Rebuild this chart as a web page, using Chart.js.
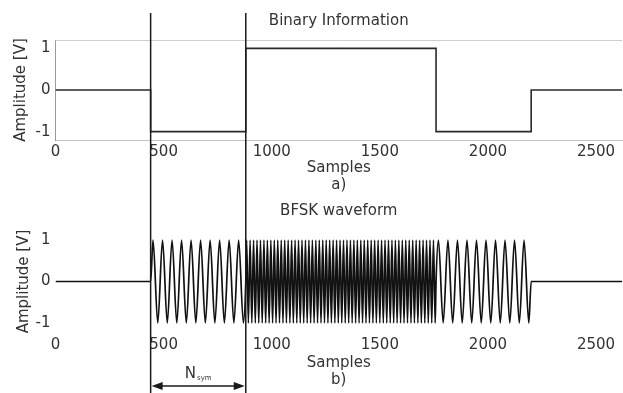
<!DOCTYPE html>
<html><head><meta charset="utf-8">
<script src="https://cdn.jsdelivr.net/npm/chart.js@4/dist/chart.umd.min.js"></script>
<style>
html,body{margin:0;padding:0;background:#fff;overflow:hidden}
#wrap{position:relative;width:623px;height:393px}
canvas{position:absolute;left:0;top:0}
</style></head>
<body><div id="wrap"><canvas id="cTop" width="623" height="393"></canvas><canvas id="cBot" width="623" height="393"></canvas></div>
<script>
// ---- data ----
const binaryStartSamples = [0, 440, 880, 1760, 2200, 2620];
const binaryLevels       = [0, -1, 1, -1, 0, 0];

const bfskSamples = [
  0, 440,
  451,473,495,517,539,561,583,605,627,649,671,693,715,737,759,781,803,825,847,869,
  880,
  884,892,900,908,916,924,932,940,948,956,
  964,972,980,988,996,1004,1012,1020,1028,1036,
  1044,1052,1060,1068,1076,1084,1092,1100,1108,1116,
  1124,1132,1140,1148,1156,1164,1172,1180,1188,1196,
  1204,1212,1220,1228,1236,1244,1252,1260,1268,1276,
  1284,1292,1300,1308,1316,1324,1332,1340,1348,1356,
  1364,1372,1380,1388,1396,1404,1412,1420,1428,1436,
  1444,1452,1460,1468,1476,1484,1492,1500,1508,1516,
  1524,1532,1540,1548,1556,1564,1572,1580,1588,1596,
  1604,1612,1620,1628,1636,1644,1652,1660,1668,1676,
  1684,1692,1700,1708,1716,1724,1732,1740,1748,1756,
  1760,
  1771,1793,1815,1837,1859,1881,1903,1925,1947,1969,1991,2013,2035,2057,2079,2101,2123,2145,2167,2189,
  2200, 2620
];
const bfskValues = [
  0, 0,
  1,-1,1,-1,1,-1,1,-1,1,-1,1,-1,1,-1,1,-1,1,-1,1,-1,
  0,
  1,-1,1,-1,1,-1,1,-1,1,-1,
  1,-1,1,-1,1,-1,1,-1,1,-1,
  1,-1,1,-1,1,-1,1,-1,1,-1,
  1,-1,1,-1,1,-1,1,-1,1,-1,
  1,-1,1,-1,1,-1,1,-1,1,-1,
  1,-1,1,-1,1,-1,1,-1,1,-1,
  1,-1,1,-1,1,-1,1,-1,1,-1,
  1,-1,1,-1,1,-1,1,-1,1,-1,
  1,-1,1,-1,1,-1,1,-1,1,-1,
  1,-1,1,-1,1,-1,1,-1,1,-1,
  1,-1,1,-1,1,-1,1,-1,1,-1,
  0,
  1,-1,1,-1,1,-1,1,-1,1,-1,1,-1,1,-1,1,-1,1,-1,1,-1,
  0, 0
];

const xTickValues = [0, 500, 1000, 1500, 2000, 2500];
const yTickValues = [-1, 0, 1];
const symbolMarkers = [440, 880];

const topTitle = 'Binary Information';
const botTitle = 'BFSK waveform';
const xTitleTop = ['Samples', 'a)'];
const xTitleBot = ['Samples', 'b)'];
const yTitle = 'Amplitude [V]';
const spanLabel = 'N';
const spanLabelSub = 'sym';

// ---- style ----
const FONT = "'DejaVu Sans', sans-serif";
const TXT = '#333';
Chart.defaults.font.family = FONT;
Chart.defaults.font.size = 15;
Chart.defaults.color = TXT;

const f15 = {family: FONT, size: 15, lineHeight: '17px', weight: 'normal'};

function fixedTicks(vals){ return s => { s.ticks = vals.map(v => ({value: v})); }; }

function xScale(titleLines, height, pad, borderShow){
  return {
    type: 'linear', min: 0, max: 2620,
    afterFit: s => { s.height = height; },
    afterBuildTicks: fixedTicks(xTickValues),
    grid: {display: false, drawTicks: false},
    border: {display: borderShow, color: '#c4c4c4', width: 1},
    ticks: {padding: pad, maxRotation: 0, autoSkip: false, font: f15, color: TXT, callback: v => String(v)},
    title: {display: true, text: titleLines, font: f15, color: TXT, padding: {top: 0, bottom: 0}}
  };
}
function yScale(titlePad, borderShow){
  return {
    min: -1.2, max: 1.2,
    afterFit: s => { s.width = 55.5; },
    afterBuildTicks: fixedTicks(yTickValues),
    grid: {display: false, drawTicks: false},
    border: {display: borderShow, color: '#9a9a9a', width: 1},
    ticks: {padding: 5, font: f15, color: TXT, callback: v => String(v)},
    title: {display: true, text: yTitle, font: f15, color: TXT, padding: {top: titlePad, bottom: 0}}
  };
}

const topBorder = {
  id: 'topBorder',
  beforeDatasetsDraw(chart){
    const a = chart.chartArea, ctx = chart.ctx;
    ctx.save();
    ctx.strokeStyle = '#cfcfcf'; ctx.lineWidth = 1;
    ctx.beginPath(); ctx.moveTo(a.left, Math.round(a.top) + 0.5); ctx.lineTo(a.right, Math.round(a.top) + 0.5); ctx.stroke();
    ctx.restore();
  }
};

new Chart(document.getElementById('cTop'), {
  type: 'line',
  data: {datasets: [{
    data: binaryStartSamples.map((x, i) => ({x, y: binaryLevels[i]})),
    stepped: 'before', borderColor: '#2a2a2a', borderWidth: 1.6, pointRadius: 0, fill: false
  }]},
  options: {
    responsive: false, animation: false, events: [],
    layout: {padding: {left: 0, right: 1, top: 0, bottom: 199}},
    plugins: {
      legend: {display: false}, tooltip: {enabled: false},
      title: {display: true, fullSize: false, text: topTitle, font: f15, color: TXT, padding: {top: 12.5, bottom: 10.5}}
    },
    scales: {x: xScale(xTitleTop, 54, 3.5, true), y: yScale(12.5, true)}
  },
  plugins: [topBorder]
});

const markers = {
  id: 'markers',
  afterDraw(chart){
    const ctx = chart.ctx, xs = chart.scales.x;
    const px = symbolMarkers.map(v => xs.getPixelForValue(v));
    ctx.save();
    ctx.strokeStyle = '#1a1a1a'; ctx.lineWidth = 1.5;
    px.forEach(p => { ctx.beginPath(); ctx.moveTo(p, 13); ctx.lineTo(p, 393); ctx.stroke(); });
    // double arrow
    const y = 386, x1 = px[0], x2 = px[1];
    ctx.lineWidth = 1.3;
    ctx.beginPath(); ctx.moveTo(x1 + 6, y); ctx.lineTo(x2 - 6, y); ctx.stroke();
    ctx.fillStyle = '#1a1a1a';
    ctx.beginPath(); ctx.moveTo(x1 + 1, y); ctx.lineTo(x1 + 12, y - 4); ctx.lineTo(x1 + 12, y + 4); ctx.closePath(); ctx.fill();
    ctx.beginPath(); ctx.moveTo(x2 - 1, y); ctx.lineTo(x2 - 12, y - 4); ctx.lineTo(x2 - 12, y + 4); ctx.closePath(); ctx.fill();
    // label
    const cx = (x1 + x2) / 2;
    ctx.fillStyle = TXT; ctx.textBaseline = 'alphabetic'; ctx.textAlign = 'left';
    ctx.font = "15px " + FONT;
    const nW = ctx.measureText(spanLabel).width;
    ctx.font = "7px " + FONT;
    const sW = ctx.measureText(spanLabelSub).width;
    const start = cx - (nW + sW + 1) / 2;
    ctx.font = "15px " + FONT;
    ctx.fillText(spanLabel, start, 378);
    ctx.font = "7px " + FONT;
    ctx.fillText(spanLabelSub, start + nW + 1, 380);
    ctx.restore();
  }
};

new Chart(document.getElementById('cBot'), {
  type: 'line',
  data: {datasets: [{
    data: bfskSamples.map((x, i) => ({x, y: bfskValues[i]})),
    cubicInterpolationMode: 'monotone', borderColor: '#111', borderWidth: 1.7, pointRadius: 0, fill: false
  }]},
  options: {
    responsive: false, animation: false, events: [],
    layout: {padding: {left: 0, right: 1, top: 0, bottom: 4}},
    plugins: {
      legend: {display: false}, tooltip: {enabled: false},
      title: {display: true, fullSize: false, text: botTitle, font: f15, color: TXT, padding: {top: 202.5, bottom: 12.2}}
    },
    scales: {x: xScale(xTitleBot, 57.7, 5.2, false), y: yScale(16, false)}
  },
  plugins: [markers]
});
</script>
</body></html>
